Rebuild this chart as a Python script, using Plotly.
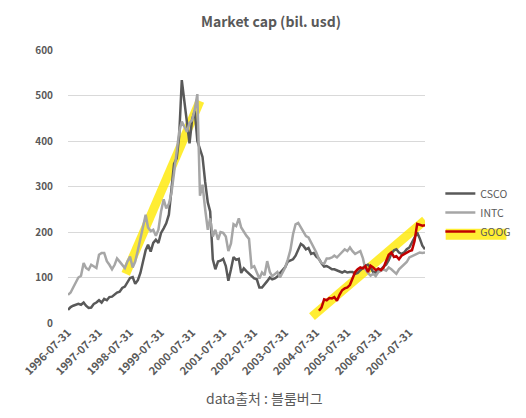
import plotly.graph_objects as go
import pandas as pd

# month-end dates, 1996-07 .. 2008-01
dates = pd.date_range("1996-07-31", "2008-01-31", freq="ME").strftime("%Y-%m-%d").tolist()

csco = [29, 35, 38, 40, 42, 40, 45, 38, 33, 34,
        42, 45, 50, 45, 53, 50, 57, 58, 62, 67,
        69, 77, 80, 88, 99, 101, 86, 94, 110, 135,
        160, 172, 157, 176, 183, 176, 198, 208, 219, 238,
        300, 350, 362, 410, 534, 485, 430, 395, 448, 466,
        400, 380, 365, 310, 265, 245, 140, 118, 135, 137,
        141, 125, 93, 118, 145, 139, 141, 110, 120, 114,
        108, 102, 98, 96, 78, 78, 84, 92, 100, 96,
        98, 102, 110, 116, 123, 135, 138, 140, 148, 162,
        174, 170, 162, 165, 152, 154, 146, 141, 131, 124,
        125, 122, 118, 118, 116, 113, 111, 114, 111, 112,
        112, 108, 110, 116, 122, 126, 128, 122, 112, 111,
        114, 118, 124, 128, 138, 152, 160, 162, 155, 152,
        155, 162, 166, 178, 186, 199, 186, 170, 162]

intc = [62, 67, 78, 90, 100, 104, 132, 121, 117, 128,
        124, 121, 150, 154, 154, 136, 128, 118, 128, 142,
        135, 128, 121, 135, 146, 122, 135, 160, 185, 215,
        238, 210, 202, 205, 192, 205, 245, 272, 252, 262,
        285, 330, 375, 420, 443, 432, 420, 440, 446, 470,
        503, 280, 304, 250, 205, 230, 190, 205, 183, 200,
        198, 190, 158, 175, 217, 213, 230, 210, 200, 192,
        185, 122, 125, 111, 98, 111, 105, 136, 112, 103,
        108, 112, 100, 110, 122, 140, 160, 195, 217, 220,
        210, 202, 191, 188, 177, 166, 155, 140, 132, 130,
        142, 142, 144, 148, 144, 150, 155, 162, 158, 166,
        158, 152, 155, 158, 142, 118, 110, 104, 108, 103,
        112, 116, 118, 115, 122, 118, 112, 108, 118, 124,
        128, 134, 144, 147, 150, 152, 155, 154, 155]

goog = [None] * 97 + [
        27, 34, 52, 50, 55, 54, 57, 49, 62, 72,
        76, 78, 84, 100, 112, 118, 122, 120, 125, 112,
        126, 122, 116, 120, 116, 122, 138, 150, 155, 145,
        147, 140, 148, 152, 155, 158, 160, 180, 218, 216,
        214, 215]

tick_dates = [f"{y}-07-31" for y in range(1996, 2008)]

# yellow highlighter strokes
hl1_x = ["1998-06-10", "2000-10-31"]
hl1_y = [108, 488]
hl2_x = ["2004-06-10", "2008-01-31"]
hl2_y = [14, 226]

GRAY = "#595959"
YELLOW = "rgba(255,232,0,0.8)"

fig = go.Figure()
for hx, hy in [(hl1_x, hl1_y), (hl2_x, hl2_y)]:
    fig.add_trace(go.Scatter(x=hx, y=hy, mode="lines", showlegend=False, hoverinfo="skip",
                             line=dict(color=YELLOW, width=9)))

fig.add_trace(go.Scatter(x=dates, y=csco, name="CSCO", mode="lines",
                         line=dict(color="#595959", width=2.5)))
fig.add_trace(go.Scatter(x=dates, y=intc, name="INTC", mode="lines",
                         line=dict(color="#A6A6A6", width=2.5)))
fig.add_trace(go.Scatter(x=dates, y=goog, name="GOOG", mode="lines",
                         line=dict(color="#C00000", width=2.5)))

# highlight behind GOOG legend entry
fig.add_shape(type="rect", xref="paper", yref="paper",
              x0=1.058, x1=1.228, y0=0.305, y1=0.345,
              fillcolor=YELLOW, line_width=0, layer="below")

# page body adds ~8px offset, so margins are trimmed to compensate
fig.update_layout(
    width=526, height=418,
    margin=dict(l=57, r=109, t=42, b=103),
    paper_bgcolor="white", plot_bgcolor="white",
    font=dict(family="Noto Sans CJK KR, Noto Sans, sans-serif", color=GRAY),
    title=dict(text="Market cap (bil. usd)", x=0.5, xanchor="center",
               y=1 - 14 / 418, yanchor="middle",
               font=dict(size=14, color=GRAY, weight="bold")),
    legend=dict(x=1.043, xanchor="left", y=0.405, yanchor="middle",
                bgcolor="rgba(0,0,0,0)", font=dict(size=10.5, color=GRAY),
                tracegroupgap=0),
    showlegend=True,
)
fig.update_xaxes(type="date", range=[dates[0], dates[-1]],
                 tickvals=tick_dates, ticktext=tick_dates, tickangle=-45,
                 tickfont=dict(size=11, color=GRAY, weight="bold"),
                 showgrid=False, showline=False, zeroline=False, ticks="")
fig.update_yaxes(range=[0, 600], dtick=100, showgrid=True, gridcolor="#D9D9D9",
                 gridwidth=1, zeroline=False, showline=False, ticks="",
                 ticklabelstandoff=14,
                 tickfont=dict(size=10, color=GRAY, weight="bold"))

fig.add_annotation(text="data출처 : 블룸버그", xref="paper", yref="paper",
                   x=0.55, y=-0.275, xanchor="center", yanchor="middle",
                   showarrow=False, font=dict(size=14, color=GRAY))

fig.write_html("out.html")
